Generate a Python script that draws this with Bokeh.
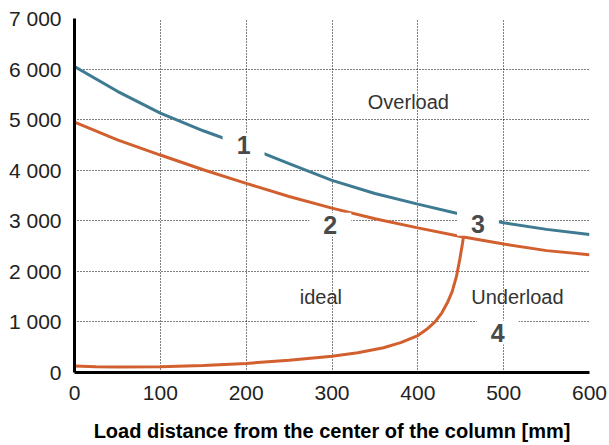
from bokeh.plotting import figure
from bokeh.models import Label, FixedTicker, Range1d
from bokeh.embed import file_html
from bokeh.resources import INLINE

# ---- data ----
x_main = [0, 50, 100, 150, 200, 250, 300, 350, 400, 450, 500, 550, 600]
curve1 = [6050, 5560, 5130, 4780, 4470, 4130, 3800, 3540, 3330, 3130, 2960, 2830, 2730]
curve2 = [4950, 4600, 4300, 4010, 3740, 3480, 3250, 3040, 2860, 2690, 2540, 2410, 2330]
x_c4 = [0, 25, 50, 100, 150, 200, 250, 300, 330, 360, 380, 400, 410, 420, 428, 435, 440, 445, 449, 452, 454]
curve4 = [130, 115, 110, 115, 140, 180, 240, 320, 390, 490, 590, 730, 850, 1000, 1180, 1400, 1600, 1900, 2250, 2550, 2780]

x_ticks = [0, 100, 200, 300, 400, 500, 600]
y_ticks = [0, 1000, 2000, 3000, 4000, 5000, 6000, 7000]
y_tick_labels = ["0", "1 000", "2 000", "3 000", "4 000", "5 000", "6 000", "7 000"]

num_labels = ["1", "2", "3", "4"]
num_x = [197, 298, 470, 493]
num_y = [4490, 2920, 2940, 790]
zone_labels = ["Overload", "ideal", "Underload"]
zone_x = [389, 287, 516]
zone_y = [5340, 1500, 1500]

x_title = "Load distance from the center of the column [mm]"

BLUE = "#3e7a92"
ORANGE = "#d2602f"
FONT = "Liberation Sans"

p = figure(width=609, height=445, output_backend="svg", toolbar_location=None,
           x_range=Range1d(0, 600), y_range=Range1d(0, 7000),
           min_border_left=74, min_border_right=20, min_border_top=18, min_border_bottom=73)
p.outline_line_color = None
p.background_fill_color = "white"

p.line(x_main, curve1, line_color=BLUE, line_width=3)
p.line(x_main, curve2, line_color=ORANGE, line_width=3)
p.line(x_c4, curve4, line_color=ORANGE, line_width=3)

p.xaxis.ticker = FixedTicker(ticks=x_ticks)
p.yaxis.ticker = FixedTicker(ticks=y_ticks)
p.yaxis.major_label_overrides = {t: l for t, l in zip(y_ticks, y_tick_labels)}

for ax in (p.xaxis, p.yaxis):
    ax.axis_line_color = "black"
    ax.axis_line_width = 3
    ax.major_tick_line_color = None
    ax.minor_tick_line_color = None
    ax.major_label_text_font = FONT
    ax.major_label_text_font_size = "21px"
    ax.major_label_text_color = "#222222"
    ax.major_label_standoff = 7

p.xaxis.axis_label = x_title
p.xaxis.axis_label_text_font = FONT
p.xaxis.axis_label_text_font_size = "20px"
p.xaxis.axis_label_text_font_style = "bold"
p.xaxis.axis_label_text_color = "black"
p.xaxis.axis_label_standoff = 17

for g in (p.xgrid, p.ygrid):
    g.grid_line_color = "black"
    g.grid_line_dash = "1 2"
    g.grid_line_width = 1

for t, x, y in zip(zone_labels, zone_x, zone_y):
    p.add_layout(Label(x=x, y=y, text=t, text_align="center", text_baseline="middle",
                       text_font=FONT, text_font_size="20px", text_color="#333333"))

for t, x, y in zip(num_labels, num_x, num_y):
    p.add_layout(Label(x=x, y=y, text=t, text_align="center", text_baseline="middle",
                       text_font=FONT, text_font_size="25px", text_font_style="bold",
                       text_color="#4a4a4a", background_fill_color="white",
                       padding=dict(left=14, right=14, top=3, bottom=3)))

open("out.html", "w").write(file_html(p, INLINE))
